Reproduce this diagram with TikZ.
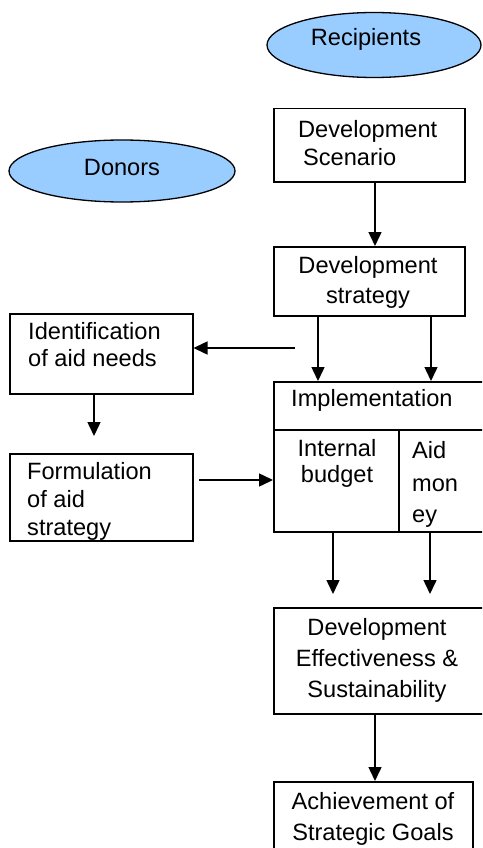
\documentclass[tikz,border=0pt]{standalone}
\usepackage{fontspec}
\setmainfont{Liberation Sans}
\usetikzlibrary{shapes.geometric,arrows.meta}
\definecolor{ellblue}{HTML}{99CCFF}
\tikzset{
  every picture/.style={x=1pt,y=-1pt},
  box/.style={draw=black,line width=1.5pt,rectangle,inner sep=0pt,anchor=north west},
  oval/.style={draw=black,line width=1.3pt,ellipse,fill=ellblue,inner sep=0pt},
  txt/.style={inner sep=0pt,font=\fontsize{23.6}{27}\selectfont},
  arr/.style={line width=1.5pt,-{Triangle[length=14pt,width=13pt]}},
  ln/.style={line width=1.5pt}
}
\begin{document}
\begin{tikzpicture}
\useasboundingbox (0,0) rectangle (482,848);
\clip (0,0) rectangle (482,848);
% ellipses
\node[oval,minimum width=214pt,minimum height=65pt] (rec) at (374,45) {};
\node[txt,anchor=base] (rect) at (366,46) {Recipients};
\node[oval,minimum width=226pt,minimum height=62pt] (don) at (122,171) {};
\node[txt,anchor=base] (dont) at (122,175) {Donors};
% boxes
\node[box,minimum width=191pt,minimum height=73pt] (scen) at (273,108) {};
\node[txt,anchor=base west] (scen1) at (298,137) {Development};
\node[txt,anchor=base west] (scen2) at (303,165) {Scenario};

\node[box,minimum width=191pt,minimum height=69pt] (strat) at (273,246) {};
\node[txt,anchor=base] (strat1) at (368,273) {Development};
\node[txt,anchor=base] (strat2) at (368,303) {strategy};

\node[box,minimum width=220pt,minimum height=150pt] (impl) at (273,381) {};
\coordinate (hl) at (273,430);
\coordinate (hr) at (493,430);
\draw[ln] (hl) -- (hr);
\coordinate (vt) at (399,430);
\coordinate (vb) at (399,531);
\draw[ln] (vt) -- (vb);
\node[txt,anchor=base west] (implt) at (291,406) {Implementation};
\node[txt,anchor=base] (int1) at (337,456) {Internal};
\node[txt,anchor=base] (int2) at (337,482) {budget};
\node[txt,anchor=base west] (aid1) at (412,458) {Aid};
\node[txt,anchor=base west] (aid2) at (412,491) {mon};
\node[txt,anchor=base west] (aid3) at (412,522) {ey};

\node[box,minimum width=183pt,minimum height=80pt] (ident) at (9,313) {};
\node[txt,anchor=base west] (ident1) at (28,339) {Identification};
\node[txt,anchor=base west] (ident2) at (28,366) {of aid needs};

\node[box,minimum width=183pt,minimum height=87pt] (form) at (9,453) {};
\node[txt,anchor=base west] (form1) at (27,479) {Formulation};
\node[txt,anchor=base west] (form2) at (27,507) {of aid};
\node[txt,anchor=base west] (form3) at (27,535) {strategy};

\node[box,minimum width=212pt,minimum height=106pt] (eff) at (273,607) {};
\node[txt,anchor=base] (eff1) at (377,635) {Development};
\node[txt,anchor=base] (eff2) at (377,666) {Effectiveness \&};
\node[txt,anchor=base] (eff3) at (377,697) {Sustainability};

\node[box,minimum width=199pt,minimum height=90pt] (ach) at (273,781) {};
\node[txt,anchor=base] (ach1) at (373,809) {Achievement of};
\node[txt,anchor=base] (ach2) at (373,840) {Strategic Goals};

% connectors
\draw[arr] (scen.south -| 375,0) -- (strat.north -| 375,0);
\draw[arr] (strat.south -| 318,0) -- (impl.north -| 318,0);
\draw[arr] (strat.south -| 431,0) -- (impl.north -| 431,0);
\coordinate (fromimpl) at (295,348);
\draw[arr] (fromimpl) -- (ident.east |- fromimpl);
\coordinate (tipform) at (94,436);
\draw[arr] (ident.south -| tipform) -- (tipform);
\coordinate (startform) at (199,480);
\draw[arr] (startform) -- (impl.west |- startform);
\coordinate (tipe1) at (333,594);
\coordinate (tipe2) at (430,594);
\draw[arr] (impl.south -| tipe1) -- (tipe1);
\draw[arr] (impl.south -| tipe2) -- (tipe2);
\draw[arr] (eff.south -| 375,0) -- (ach.north -| 375,0);
\end{tikzpicture}
\end{document}
